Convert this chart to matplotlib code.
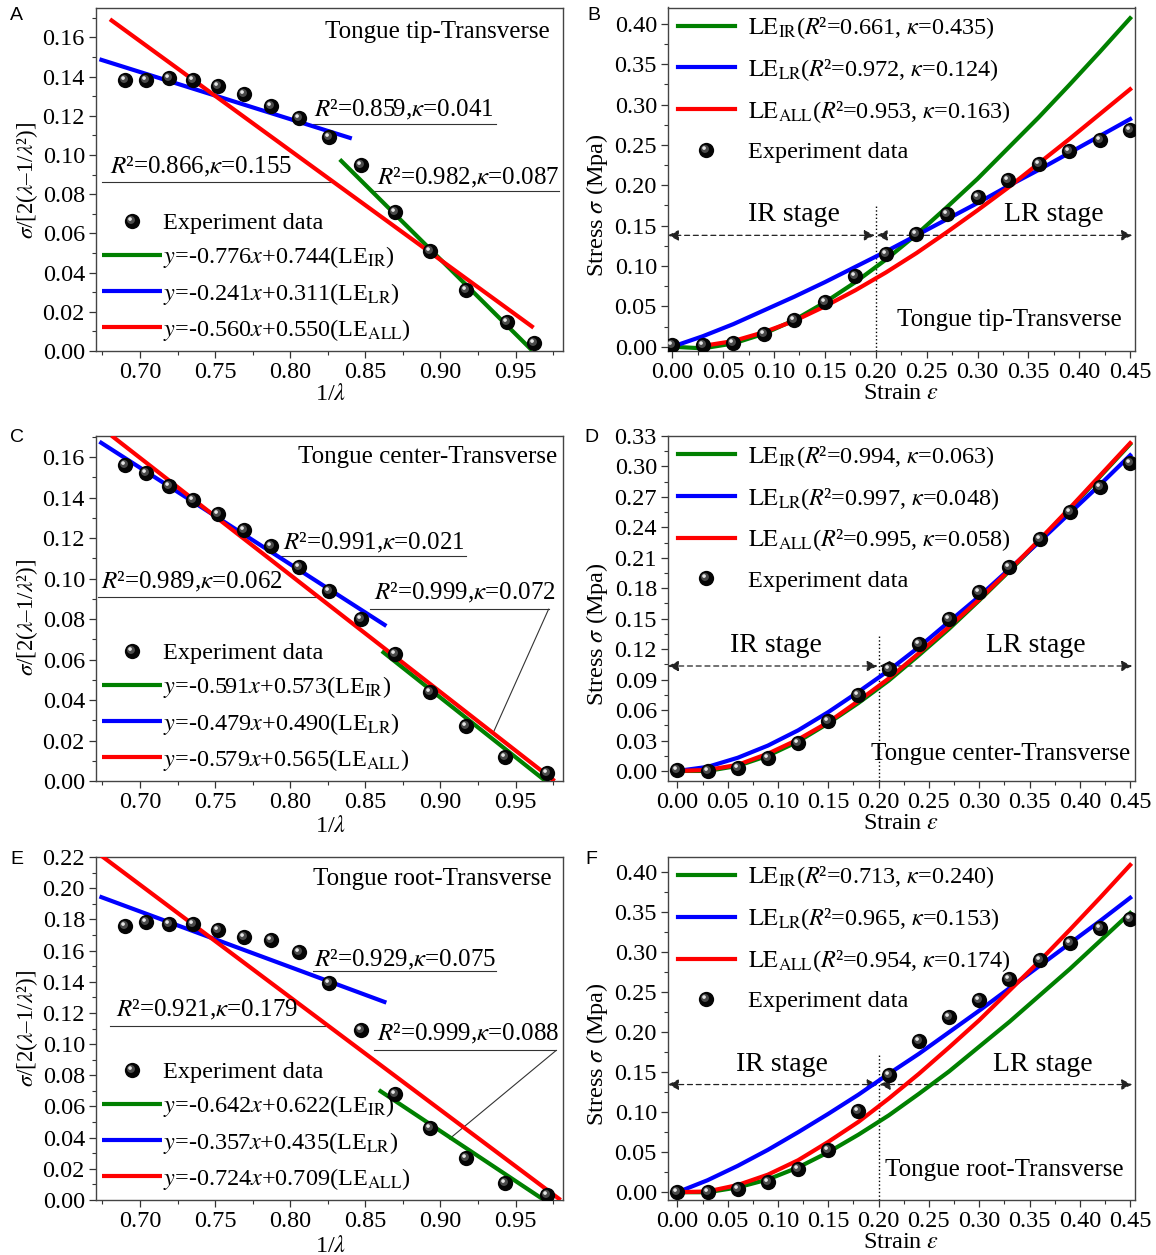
import numpy as np
import matplotlib
matplotlib.use('Agg')
import matplotlib.pyplot as plt
from matplotlib.path import Path
from matplotlib.ticker import MultipleLocator, FormatStrFormatter

plt.rcParams['font.family'] = ['Liberation Serif', 'DejaVu Serif']
plt.rcParams['mathtext.fontset'] = 'stix'
plt.rcParams['font.size'] = 17

GREEN, BLUE, RED = '#008000', '#0000ff', '#ff0000'

# ---------------- data ----------------
# 1/lambda positions of the experiment points (left column)
inv_lam_A = [0.690, 0.704, 0.719, 0.735, 0.752, 0.769, 0.787, 0.806, 0.826, 0.847, 0.870, 0.893, 0.917, 0.944, 0.962]
inv_lam_CE = [0.690, 0.704, 0.719, 0.735, 0.752, 0.769, 0.787, 0.806, 0.826, 0.847, 0.870, 0.893, 0.917, 0.943, 0.971]
red_A = [0.138, 0.138, 0.139, 0.138, 0.135, 0.131, 0.125, 0.119, 0.109, 0.095, 0.071, 0.051, 0.031, 0.015, 0.004]
red_C = [0.156, 0.152, 0.146, 0.139, 0.132, 0.124, 0.116, 0.106, 0.094, 0.080, 0.063, 0.044, 0.027, 0.012, 0.004]
red_E = [0.176, 0.178, 0.177, 0.177, 0.173, 0.169, 0.167, 0.159, 0.139, 0.109, 0.068, 0.046, 0.027, 0.011, 0.003]

# fitted lines (end points) for the reduced stress plots
A_ir = ([0.833, 0.961], [0.0977, 0.0003])
A_lr = ([0.673, 0.841], [0.1488, 0.1084])
A_all = ([0.680, 0.962], [0.1692, 0.0119])
C_ir = ([0.861, 0.970], [0.0642, 0.0])
C_lr = ([0.673, 0.864], [0.1677, 0.0766])
C_all = ([0.681, 0.976], [0.1707, 0.0])
E_ir = ([0.859, 0.969], [0.0705, 0.0])
E_lr = ([0.673, 0.864], [0.1947, 0.1266])
E_all = ([0.674, 0.980], [0.2210, 0.0])

# stress-strain panels
strain = [0.00, 0.03, 0.06, 0.09, 0.12, 0.15, 0.18, 0.21, 0.24, 0.27, 0.30, 0.33, 0.36, 0.39, 0.42, 0.45]
B_data = [0.002, 0.002, 0.005, 0.016, 0.033, 0.056, 0.088, 0.115, 0.140, 0.164, 0.186, 0.207, 0.226, 0.242, 0.256, 0.269]
B_ir = [0.000, -0.002, 0.004, 0.016, 0.033, 0.055, 0.080, 0.108, 0.139, 0.173, 0.208, 0.246, 0.284, 0.324, 0.365, 0.407]
B_lr = [0.000, 0.013, 0.028, 0.045, 0.062, 0.080, 0.099, 0.118, 0.138, 0.158, 0.178, 0.199, 0.219, 0.240, 0.261, 0.282]
B_all = [np.nan, 0.001, 0.007, 0.018, 0.032, 0.050, 0.070, 0.092, 0.116, 0.142, 0.169, 0.197, 0.227, 0.257, 0.288, 0.319]

D_data = [0.001, 0.000, 0.003, 0.013, 0.028, 0.049, 0.075, 0.100, 0.125, 0.150, 0.176, 0.201, 0.229, 0.255, 0.280, 0.303]
D_ir = [0.000, 0.000, 0.005, 0.015, 0.029, 0.047, 0.067, 0.089, 0.114, 0.140, 0.168, 0.197, 0.227, 0.258, 0.290, 0.322]
D_lr = [0.000, 0.004, 0.013, 0.025, 0.040, 0.058, 0.078, 0.099, 0.122, 0.147, 0.172, 0.199, 0.226, 0.254, 0.282, 0.311]
D_all = [0.000, 0.001, 0.006, 0.017, 0.031, 0.048, 0.069, 0.091, 0.116, 0.142, 0.169, 0.198, 0.228, 0.259, 0.291, 0.323]

F_data = [0.000, 0.000, 0.004, 0.013, 0.029, 0.053, 0.102, 0.147, 0.189, 0.219, 0.240, 0.266, 0.290, 0.311, 0.330, 0.342]
F_ir = [0.000, 0.000, 0.006, 0.016, 0.031, 0.050, 0.072, 0.096, 0.123, 0.151, 0.182, 0.213, 0.246, 0.279, 0.314, 0.349]
F_lr = [0.000, 0.015, 0.033, 0.053, 0.075, 0.098, 0.122, 0.148, 0.173, 0.200, 0.227, 0.255, 0.283, 0.311, 0.339, 0.368]
F_all = [0.000, 0.001, 0.009, 0.022, 0.040, 0.063, 0.088, 0.117, 0.148, 0.181, 0.215, 0.252, 0.289, 0.328, 0.368, 0.409]

eqs_A = ['-0.776$x$+0.744', '-0.241$x$+0.311', '-0.560$x$+0.550']
eqs_C = ['-0.591$x$+0.573', '-0.479$x$+0.490', '-0.579$x$+0.565']
eqs_E = ['-0.642$x$+0.622', '-0.357$x$+0.435', '-0.724$x$+0.709']
fits_B = [('0.661', '0.435'), ('0.972', '0.124'), ('0.953', '0.163')]
fits_D = [('0.994', '0.063'), ('0.997', '0.048'), ('0.995', '0.058')]
fits_F = [('0.713', '0.240'), ('0.965', '0.153'), ('0.954', '0.174')]

# R^2 labels: R2, kappa, text x, baseline y, underline x0, x1, y
notes_A = [('0.859', '0.041', 0.816, 0.1198, 0.815, 0.937, 0.1157),
           ('0.866', '0.155', 0.680, 0.0906, 0.675, 0.828, 0.0863),
           ('0.982', '0.087', 0.858, 0.0849, 0.854, 0.979, 0.0815)]
notes_C = [('0.991', '0.021', 0.795, 0.1142, 0.794, 0.917, 0.1114),
           ('0.989', '0.062', 0.674, 0.0952, 0.672, 0.819, 0.0911),
           ('0.999', '0.072', 0.856, 0.0895, 0.853, 0.972, 0.0849)]
notes_E = [('0.929', '0.075', 0.816, 0.1500, 0.815, 0.937, 0.1466),
           ('0.921', '0.179', 0.684, 0.1179, 0.680, 0.823, 0.1119),
           ('0.999', '0.088', 0.858, 0.1023, 0.856, 0.977, 0.0959)]

W, H = 1156, 1255
fig = plt.figure(figsize=(W / 100, H / 100), dpi=100)


def add_ax(l, t, r, b):
    return fig.add_axes([l / W, 1 - b / H, (r - l) / W, (b - t) / H])


# sphere look for the experiment points
def offset_circle(cx, cy, r):
    c = Path.circle((cx, cy), r)
    verts = np.vstack([[[0.5, 0.5]], c.vertices])
    codes = np.concatenate([[Path.MOVETO], c.codes])
    return Path(verts, codes)


shade = offset_circle(-0.10, 0.10, 0.26)
spot = offset_circle(-0.16, 0.16, 0.12)


def points(ax, x, y):
    h1, = ax.plot(x, y, 'o', ms=11, color='#050505', mew=0, zorder=4)
    h2, = ax.plot(x, y, ls='none', marker=shade, ms=11, color='#4a4a4a', mew=0, zorder=4)
    h3, = ax.plot(x, y, ls='none', marker=spot, ms=11, color='#e6e6e6', mew=0, zorder=4)
    return (h1, h2, h3)


def style(ax, xlim, ylim, xmaj, ymaj):
    ax.set_xlim(*xlim)
    ax.set_ylim(*ylim)
    ax.xaxis.set_major_locator(MultipleLocator(xmaj))
    ax.xaxis.set_minor_locator(MultipleLocator(xmaj / 2))
    ax.yaxis.set_major_locator(MultipleLocator(ymaj))
    ax.yaxis.set_minor_locator(MultipleLocator(ymaj / 2))
    ax.xaxis.set_major_formatter(FormatStrFormatter('%.2f'))
    ax.yaxis.set_major_formatter(FormatStrFormatter('%.2f'))
    ax.tick_params(which='major', direction='out', length=5, width=0.9, labelsize=17.5, pad=3, colors='#333333', labelcolor='black')
    ax.tick_params(which='minor', direction='out', length=3, width=0.8, colors='#333333')
    for s in ax.spines.values():
        s.set_color('#444444')
        s.set_linewidth(1.0)


def reduced_panel(ax, ylim, x_pts, y_pts, lines, eqs, notes, title, tpos, ylab_y, xlab_y, leader=None):
    style(ax, (0.6707, 0.9816), ylim, 0.05, 0.02)
    hp = points(ax, x_pts, y_pts)
    hs = []
    for (lx, ly), c in zip(lines, [GREEN, BLUE, RED]):
        h, = ax.plot(lx, ly, color=c, lw=3, zorder=3, solid_capstyle='butt')
        hs.append(h)
    labels = ['Experiment data'] + ['$y$=' + e + '(LE$_{\\mathrm{%s}}$)' % s for e, s in zip(eqs, ['IR', 'LR', 'ALL'])]
    ax.legend([hp] + hs, labels, loc='lower left', bbox_to_anchor=(0.013, 0.024), frameon=False,
              borderpad=0, borderaxespad=0, handlelength=2.45, handletextpad=0.05, labelspacing=0.42,
              numpoints=1, fontsize=17.5)
    for r2, k, tx, ty, u0, u1, uy in notes:
        ax.text(tx, ty, '$R$\u00b2=%s,$\\kappa$=%s' % (r2, k), fontsize=18, ha='left', va='baseline', zorder=5)
        ax.plot([u0, u1], [uy, uy], color='#333333', lw=0.8, zorder=2)
    if leader is not None:
        ax.plot(leader[0], leader[1], color='#333333', lw=0.8, zorder=2)
    ax.text(tpos[0], tpos[1], title, transform=ax.transAxes, ha='right', va='center', fontsize=18)
    ax.set_ylabel('$\\sigma$/[2($\\lambda$\u20131/$\\lambda$\u00b2)]', fontsize=16.5, va='center')
    ax.yaxis.set_label_coords(-0.147, ylab_y)
    ax.set_xlabel('1/$\\lambda$', fontsize=17.5, va='center')
    ax.xaxis.set_label_coords(0.503, xlab_y)


def stress_panel(ax, ylim, ymaj, data, ir, lr, al, fits, title, tpos, arrow_y, vtop, ir_pos, lr_pos, ylab_y, xlab_y, xlim):
    style(ax, xlim, ylim, 0.05, ymaj)
    hs = []
    for yy, c in zip([ir, lr, al], [GREEN, BLUE, RED]):
        h, = ax.plot(strain, yy, color=c, lw=3, zorder=3)
        hs.append(h)
    hp = points(ax, strain, data)
    labels = ['$\\mathrm{LE}_{\\mathrm{%s}}$($R$\u00b2=%s, $\\kappa$=%s)' % (s, r, k)
              for s, (r, k) in zip(['IR', 'LR', 'ALL'], fits)] + ['Experiment data']
    ax.legend(hs + [hp], labels, loc='upper left', bbox_to_anchor=(0.021, 0.978), frameon=False,
              borderpad=0, borderaxespad=0, handlelength=2.35, handletextpad=0.55, labelspacing=0.66,
              numpoints=1, fontsize=17.5)
    ax.vlines(0.2, ylim[0], vtop, colors='black', linestyles=':', lw=1.0, zorder=1)
    ap = dict(arrowstyle='<|-|>', color='#222222', lw=0.9, linestyle=(0, (4, 3)), mutation_scale=16,
              shrinkA=0, shrinkB=0)
    ax.annotate('', xy=(xlim[0], arrow_y), xytext=(0.199, arrow_y), arrowprops=ap, zorder=2)
    ax.annotate('', xy=(0.201, arrow_y), xytext=(0.452, arrow_y), arrowprops=ap, zorder=2)
    ax.text(ir_pos[0], ir_pos[1], 'IR stage', fontsize=20, ha='left', va='center')
    ax.text(lr_pos[0], lr_pos[1], 'LR stage', fontsize=20, ha='left', va='center')
    ax.text(tpos[0], tpos[1], title, transform=ax.transAxes, ha='right', va='center', fontsize=18)
    ax.set_ylabel('Stress $\\sigma$ (Mpa)', fontsize=17.5, va='center')
    ax.yaxis.set_label_coords(-0.152, ylab_y)
    ax.set_xlabel('Strain $\\varepsilon$', fontsize=17.5, va='center')
    ax.xaxis.set_label_coords(0.50, xlab_y)


rows = [(7.5, 351), (436, 781), (857, 1200)]
L0, L1, R0, R1 = 96, 563, 668, 1135

axA = add_ax(L0, rows[0][0], L1, rows[0][1])
reduced_panel(axA, (0, 0.1752), inv_lam_A, red_A, [A_ir, A_lr, A_all], eqs_A, notes_A,
              'Tongue tip-Transverse', (0.972, 0.929), 0.497, -0.128)

axC = add_ax(L0, rows[1][0], L1, rows[1][1])
reduced_panel(axC, (0, 0.1705), inv_lam_CE, red_C, [C_ir, C_lr, C_all], eqs_C, notes_C,
              'Tongue center-Transverse', (0.988, 0.938), 0.475, -0.133,
              leader=([0.972, 0.935], [0.0849, 0.0236]))

axE = add_ax(L0, rows[2][0], L1, rows[2][1])
reduced_panel(axE, (0, 0.22), inv_lam_CE, red_E, [E_ir, E_lr, E_all], eqs_E, notes_E,
              'Tongue root-Transverse', (0.975, 0.937), 0.50, -0.136,
              leader=([0.977, 0.906], [0.0959, 0.0392]))

axB = add_ax(R0, rows[0][0], R1, rows[0][1])
stress_panel(axB, (-0.0053, 0.4203), 0.05, B_data, B_ir, B_lr, B_all, fits_B, 'Tongue tip-Transverse',
             (0.972, 0.089), 0.138, 0.176, (0.074, 0.164), (0.326, 0.164), 0.426, -0.125, (-0.0042, 0.4548))

axD = add_ax(R0, rows[1][0], R1, rows[1][1])
stress_panel(axD, (-0.0099, 0.33), 0.03, D_data, D_ir, D_lr, D_all, fits_D, 'Tongue center-Transverse',
             (0.990, 0.077), 0.1034, 0.134, (0.052, 0.1235), (0.307, 0.1235), 0.426, -0.122, (-0.0093, 0.4548))

axF = add_ax(R0, rows[2][0], R1, rows[2][1])
stress_panel(axF, (-0.0097, 0.419), 0.05, F_data, F_ir, F_lr, F_all, fits_F, 'Tongue root-Transverse',
             (0.975, 0.087), 0.1346, 0.172, (0.058, 0.160), (0.314, 0.160), 0.424, -0.125, (-0.0093, 0.4548))

for lab, x, y in [('A', 10, 16), ('B', 587, 16), ('C', 10, 438), ('D', 584, 438), ('E', 10, 860), ('F', 585, 860)]:
    fig.text(x / W, 1 - y / H, lab, family='Liberation Sans', fontsize=14, ha='left', va='center')

fig.savefig('out.png', dpi=100)
